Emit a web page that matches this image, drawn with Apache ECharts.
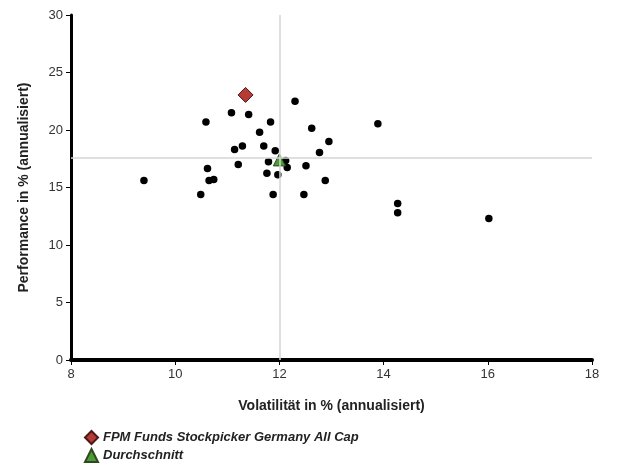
<!DOCTYPE html>
<html>
<head>
<meta charset="utf-8">
<script src="https://cdn.jsdelivr.net/npm/echarts@6/dist/echarts.min.js"></script>
<style>html,body{margin:0;padding:0;background:#fff}#c{width:617px;height:464px}</style>
</head>
<body>
<div id="c"></div>
<script>
// Peer group funds: [volatility, performance]
const peerVol  = [9.40,10.49,10.59,10.62,10.65,10.74,11.08,11.14,11.21,11.29,11.41,11.62,11.70,11.76,11.79,11.83,11.88,11.92,11.97,12.12,12.15,12.30,12.47,12.51,12.62,12.77,12.88,12.95,13.89,14.27,14.27,16.02];
const peerPerf = [15.6,14.4,20.7,16.65,15.6,15.7,21.5,18.3,17.0,18.6,21.35,19.8,18.6,16.25,17.25,20.7,14.4,18.2,16.1,17.35,16.75,22.5,14.4,16.9,20.15,18.05,15.6,19.0,20.55,13.6,12.8,12.3];
const fundName = "FPM Funds Stockpicker Germany All Cap";
const fundPoint = [11.35, 23.05];
const avgName = "Durchschnitt";
const avgPoint = [12.0, 17.4];
const crossX = 12.0;
const crossY = 17.55;
const xTicks = [8, 10, 12, 14, 16, 18];
const yTicks = [0, 5, 10, 15, 20, 25, 30];

const peerData = peerVol.map((v, i) => [v, peerPerf[i]]);
const chart = echarts.init(document.getElementById('c'));
const font = 'Liberation Sans, Arial, sans-serif';
chart.setOption({
  animation: false,
  textStyle: { fontFamily: font },
  grid: { left: 71, top: 15, right: 25, bottom: 104, containLabel: false },
  xAxis: {
    type: 'value', min: xTicks[0], max: xTicks[xTicks.length-1], interval: 2,
    name: 'Volatilität in % (annualisiert)', nameLocation: 'middle', nameGap: 39,
    nameTextStyle: { fontSize: 14, fontWeight: 'bold', color: '#222', fontFamily: font },
    axisLine: { show: true, onZero: false, lineStyle: { color: '#000', width: 4 } },
    axisTick: { show: true, length: 5, lineStyle: { color: '#000', width: 1 } },
    axisLabel: { fontSize: 13, color: '#333', margin: 8, fontFamily: font },
    splitLine: { show: false }
  },
  yAxis: {
    type: 'value', min: yTicks[0], max: yTicks[yTicks.length-1], interval: 5,
    name: 'Performance in % (annualisiert)', nameLocation: 'middle', nameGap: 40,
    nameTextStyle: { fontSize: 14, fontWeight: 'bold', color: '#222', fontFamily: font },
    axisLine: { show: true, onZero: false, lineStyle: { color: '#000', width: 3 } },
    axisTick: { show: true, length: 5, lineStyle: { color: '#000', width: 1 } },
    axisLabel: { fontSize: 13, color: '#333', margin: 8, fontFamily: font },
    splitLine: { show: false }
  },
  legend: {
    data: [fundName, avgName], orient: 'vertical', left: 84, top: 430,
    width: 400, height: 40, padding: 0,
    itemGap: 3, itemWidth: 13, itemHeight: 13,
    textStyle: { fontSize: 13, fontStyle: 'italic', fontWeight: 'bold', color: '#222', fontFamily: font }
  },
  series: [
    {
      name: 'cross', type: 'scatter', data: [], z: 1, silent: true,
      markLine: {
        silent: true, symbol: 'none', animation: false,
        label: { show: false },
        lineStyle: { color: '#d4d4d4', width: 1.5, type: 'solid' },
        data: [{ xAxis: crossX }, { yAxis: crossY }]
      }
    },
    {
      name: 'peers', type: 'scatter', data: peerData, symbol: 'circle', symbolSize: 7.5, z: 2,
      itemStyle: { color: '#000', opacity: 1 }
    },
    {
      name: avgName, type: 'scatter', data: [avgPoint], symbol: 'triangle', symbolSize: 12, z: 3,
      itemStyle: { color: '#4e9a34', borderColor: '#2a4a1f', borderWidth: 1, opacity: 1 }
    },
    {
      name: fundName, type: 'scatter', data: [fundPoint], symbol: 'diamond', symbolSize: 15, z: 4,
      itemStyle: { color: '#b83a35', borderColor: '#4a1a18', borderWidth: 1, opacity: 1 }
    }
  ]
});
</script>
</body>
</html>
